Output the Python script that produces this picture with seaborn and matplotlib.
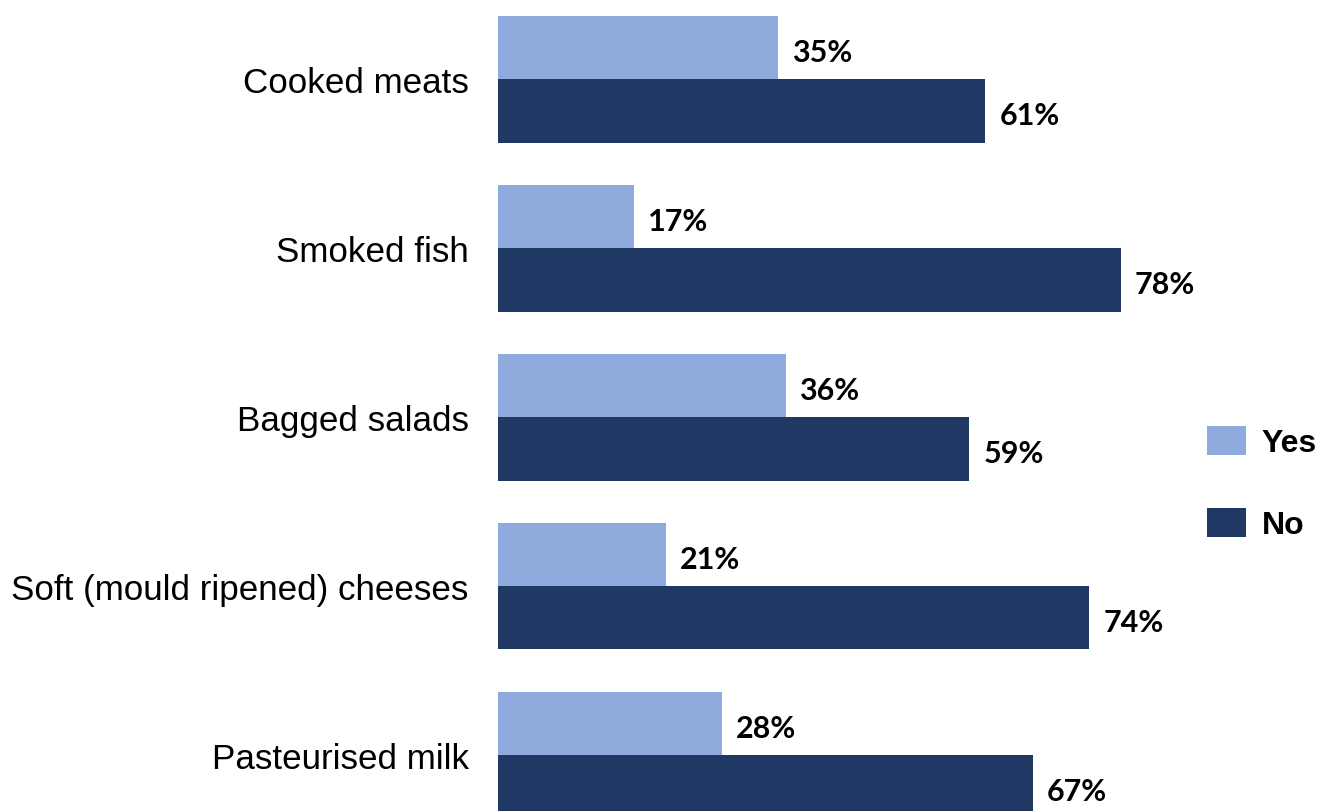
import matplotlib
matplotlib.use("Agg")
import matplotlib.pyplot as plt
import seaborn as sns
import pandas as pd
from matplotlib.patches import Patch

categories = ["Cooked meats", "Smoked fish", "Bagged salads",
              "Soft (mould ripened) cheeses", "Pasteurised milk"]
yes_values = [35, 17, 36, 21, 28]
no_values = [61, 78, 59, 74, 67]
series = ["Yes", "No"]
colors = {"Yes": "#8FAADC", "No": "#203864"}

df = pd.DataFrame({
    "Category": categories * 2,
    "Response": ["Yes"] * len(categories) + ["No"] * len(categories),
    "Value": yes_values + no_values,
})

sns.set_theme(style="white")
plt.rcParams['font.family'] = ['Liberation Sans', 'DejaVu Sans']
plt.rcParams['text.color'] = 'black'

fig = plt.figure(figsize=(13.23, 8.12), dpi=100)
ax = fig.add_axes([498 / 1323, 0, 799 / 1323, 1])

sns.barplot(data=df, y="Category", x="Value", hue="Response", order=categories,
            hue_order=series, palette=colors, orient="h", width=0.75, gap=0,
            ax=ax, legend=False, saturation=1, linewidth=0)

for cont, vals in zip(ax.containers, [yes_values, no_values]):
    anns = ax.bar_label(cont, labels=[f"{v}%" for v in vals], padding=10,
                        fontsize=22, fontweight="bold", family=["Lato", "DejaVu Sans"],
                        color="black")
    for a in anns:
        a.xyann = (10, -3)

ax.set_xlim(0, 100)
ax.set_ylim(4.331, -0.4756)
ax.set_xlabel("")
ax.set_ylabel("")
ax.set_xticks([])
ax.tick_params(axis="y", length=0, pad=21, labelsize=25.2, labelcolor="black")
for s in ax.spines.values():
    s.set_visible(False)

handles = [Patch(facecolor=colors[s], edgecolor="none", label=s) for s in series]
leg = fig.legend(handles=handles, loc="center left", bbox_to_anchor=(1207 / 1323, 1 - 484 / 812),
                 frameon=False, prop={"size": 23, "weight": "bold"},
                 handlelength=1.22, handleheight=1.05, handletextpad=0.5, labelspacing=1.55,
                 borderpad=0, borderaxespad=0)
for t in leg.get_texts():
    t.set_color("black")

fig.savefig("out.png", dpi=100)
